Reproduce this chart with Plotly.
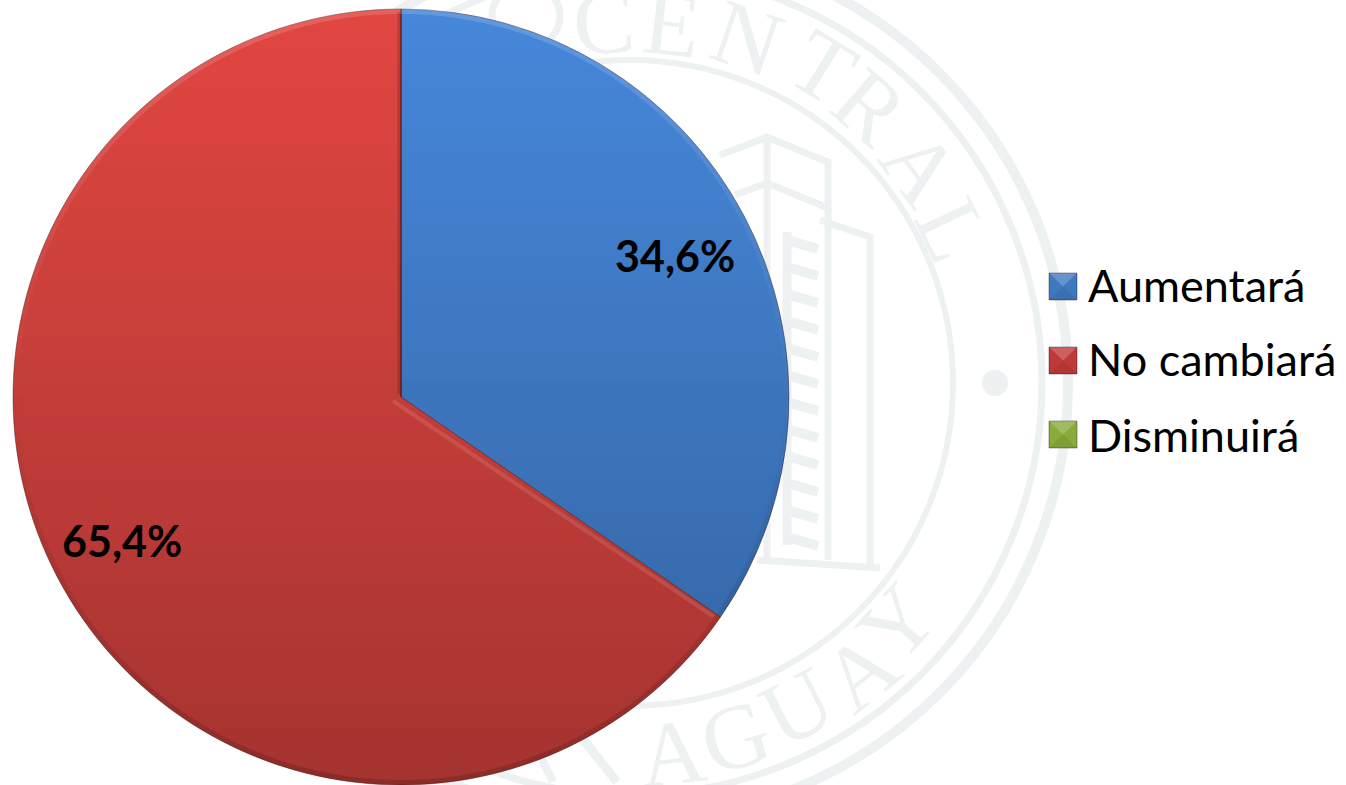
import math
import plotly.graph_objects as go

W, H = 1346, 785

# ---- data ----
labels = ["Aumentará", "No cambiará", "Disminuirá"]
values = [34.6, 65.4, 0.0]
colors = ["#4788DB", "#E24742", "#9BBB59"]
swatch_colors = ["#3F78BF", "#C0393A", "#8AAA3A"]
value_text = ["34,6%", "65,4%"]

# ---- layout constants (pixels of the reference) ----
CX, CY, R = 401, 397, 388
WM = "#EDF1F2"


def px(x):
    return x / W


def py(y):
    return 1 - y / H


def poly(points):
    return "M" + "L".join(f"{px(x):.5f},{py(y):.5f}" for x, y in points) + "Z"


def line(points, width=7, color=WM, layer="below"):
    return dict(type="path", xref="paper", yref="paper", layer=layer,
                path="M" + "L".join(f"{px(x):.5f},{py(y):.5f}" for x, y in points),
                line=dict(color=color, width=width))


def arc(r, a0, a1, width, color):
    pts = []
    n = int(abs(a1 - a0)) + 1
    for i in range(n + 1):
        a = math.radians(a0 + (a1 - a0) * i / n)
        pts.append((CX + r * math.sin(a), CY - r * math.cos(a)))
    return line(pts, width, color, "above")


shapes = []
# watermark rings
WX, WY = 630, 383
for r, w in [(323, 6), (412, 7), (438, 10)]:
    shapes.append(dict(type="circle", xref="paper", yref="paper", layer="below",
                       x0=px(WX - r), x1=px(WX + r), y0=py(WY + r), y1=py(WY - r),
                       line=dict(color=WM, width=w)))
shapes.append(dict(type="circle", xref="paper", yref="paper", layer="below",
                   x0=px(982), x1=px(1008), y0=py(396), y1=py(370),
                   fillcolor=WM, line=dict(width=0)))
# partly hidden O and R of the watermark text
shapes.append(dict(type="circle", xref="paper", yref="paper", layer="below",
                   x0=px(492), x1=px(560), y0=py(48), y1=py(-16),
                   line=dict(color=WM, width=7)))
shapes.append(line([(578, 733), (617, 782)], 9))
shapes.append(line([(553, 782), (535, 745)], 8))
# watermark building
shapes += [
    line([(720, 155), (767, 137), (828, 162), (828, 208), (767, 183), (735, 195)]),
    line([(767, 137), (767, 560)]),
    line([(828, 208), (828, 560)]),
    line([(820, 220), (870, 237), (870, 567)]),
    line([(757, 560), (880, 568)]),
    line([(787, 232), (787, 545)], 9),
]
for y in range(240, 550, 27):
    shapes.append(line([(787, y), (818, y + 9)], 10))

# vertical shading of the pie (disjoint bands on whole pixels)
N = 40
for k in range(N):
    y0 = CY - R + round(2 * R * k / N)
    y1 = CY - R + round(2 * R * (k + 1) / N)
    pts_r = []
    for y in range(y0, y1 + 1, 2):
        pts_r.append((CX + math.sqrt(max(R * R - (y - CY) ** 2, 0)), y))
    pts_r.append((CX + math.sqrt(max(R * R - (y1 - CY) ** 2, 0)), y1))
    pts_l = [(2 * CX - x, y) for x, y in reversed(pts_r)]
    shapes.append(dict(type="path", xref="paper", yref="paper", layer="above",
                       path=poly(pts_r + pts_l),
                       fillcolor=f"rgba(0,0,0,{0.27 * (k + 0.5) / N:.4f})",
                       line=dict(width=0)))

# bevel of the slices: rim fading from light at the top to dark at the bottom
STEP = 6
for a in range(-180, 180, STEP):
    mid = math.radians(a + STEP / 2)
    c = math.cos(mid)
    tone = "255,255,255" if c > 0 else "0,0,0"
    shapes.append(arc(R - 2.5, a, a + STEP, 5, f"rgba({tone},{abs(c) * 0.15:.3f})"))
spoke = math.radians(360 * values[0] / sum(values))
shapes.append(line([(CX - 8, CY + 4),
                    (CX + (R - 6) * math.sin(spoke) - 2, CY - (R - 6) * math.cos(spoke) + 3)],
                   4, "rgba(255,255,255,0.11)", "above"))
shapes.append(line([(CX - 2, CY - 3), (CX - 2, CY - R + 3)], 3, "rgba(0,0,0,0.16)", "above"))

# legend swatches
SX0, SX1 = 1049, 1077
swatch_y = [273, 347, 421]
for c, y in zip(swatch_colors, swatch_y):
    s = 27
    mx, my = (SX0 + SX1) / 2, y + s / 2
    shapes.append(dict(type="path", xref="paper", yref="paper", layer="above",
                       path=poly([(SX0, y), (SX1, y), (SX1, y + s), (SX0, y + s)]),
                       fillcolor=c, line=dict(color="rgba(0,0,0,0.35)", width=1)))
    shapes.append(dict(type="path", xref="paper", yref="paper", layer="above",
                       path=poly([(SX0, y), (SX1, y), (mx, my)]),
                       fillcolor="rgba(255,255,255,0.2)", line=dict(width=0)))
    shapes.append(dict(type="path", xref="paper", yref="paper", layer="above",
                       path=poly([(SX0, y + s), (SX1, y + s), (mx, my)]),
                       fillcolor="rgba(0,0,0,0.07)", line=dict(width=0)))

annotations = []


def ann(text, x, y, size, color="#000000", family="Lato", anchor="center", angle=0, bold=False):
    annotations.append(dict(text=f"<b>{text}</b>" if bold else text, x=px(x), y=py(y),
                            xref="paper", yref="paper", xanchor=anchor, yanchor="middle",
                            showarrow=False, textangle=angle,
                            font=dict(size=size, color=color, family=family)))


# watermark lettering
for ch, x, y in [("C", 603, 22), ("E", 672, 24), ("N", 747, 38), ("T", 823, 67),
                 ("R", 870, 107), ("A", 920, 167), ("L", 953, 230)]:
    ann(ch, x, y, 92, WM, "Liberation Serif", angle=math.degrees(math.atan2(x - WX, WY - y)))
for ch, x, y in [("A", 672, 753), ("G", 735, 737), ("U", 797, 707), ("A", 860, 672), ("Y", 897, 623)]:
    ann(ch, x, y, 92, WM, "Liberation Serif", angle=-math.degrees(math.atan2(x - WX, y - WY)))

# value labels
ann(value_text[0], 675, 256, 43, bold=True)
ann(value_text[1], 122, 540, 43, bold=True)
# legend text
for t, y in zip(labels, [285, 359, 435]):
    ann(t, 1086, y, 45, anchor="left")

fig = go.Figure(go.Pie(
    labels=labels, values=values, sort=False, direction="clockwise", rotation=0,
    marker=dict(colors=colors, line=dict(color="rgba(60,20,20,0.4)", width=1)),
    textinfo="none", hoverinfo="label+percent", showlegend=False,
    domain=dict(x=[px(CX - R), px(CX + R)], y=[py(CY + R), py(CY - R)]),
))
fig.update_layout(width=W, height=H, margin=dict(l=0, r=0, t=0, b=0),
                  paper_bgcolor="white", plot_bgcolor="white",
                  showlegend=False, shapes=shapes, annotations=annotations)
fig.write_html("out.html", config={"displayModeBar": False},
               post_script="document.body.style.margin='0';")
